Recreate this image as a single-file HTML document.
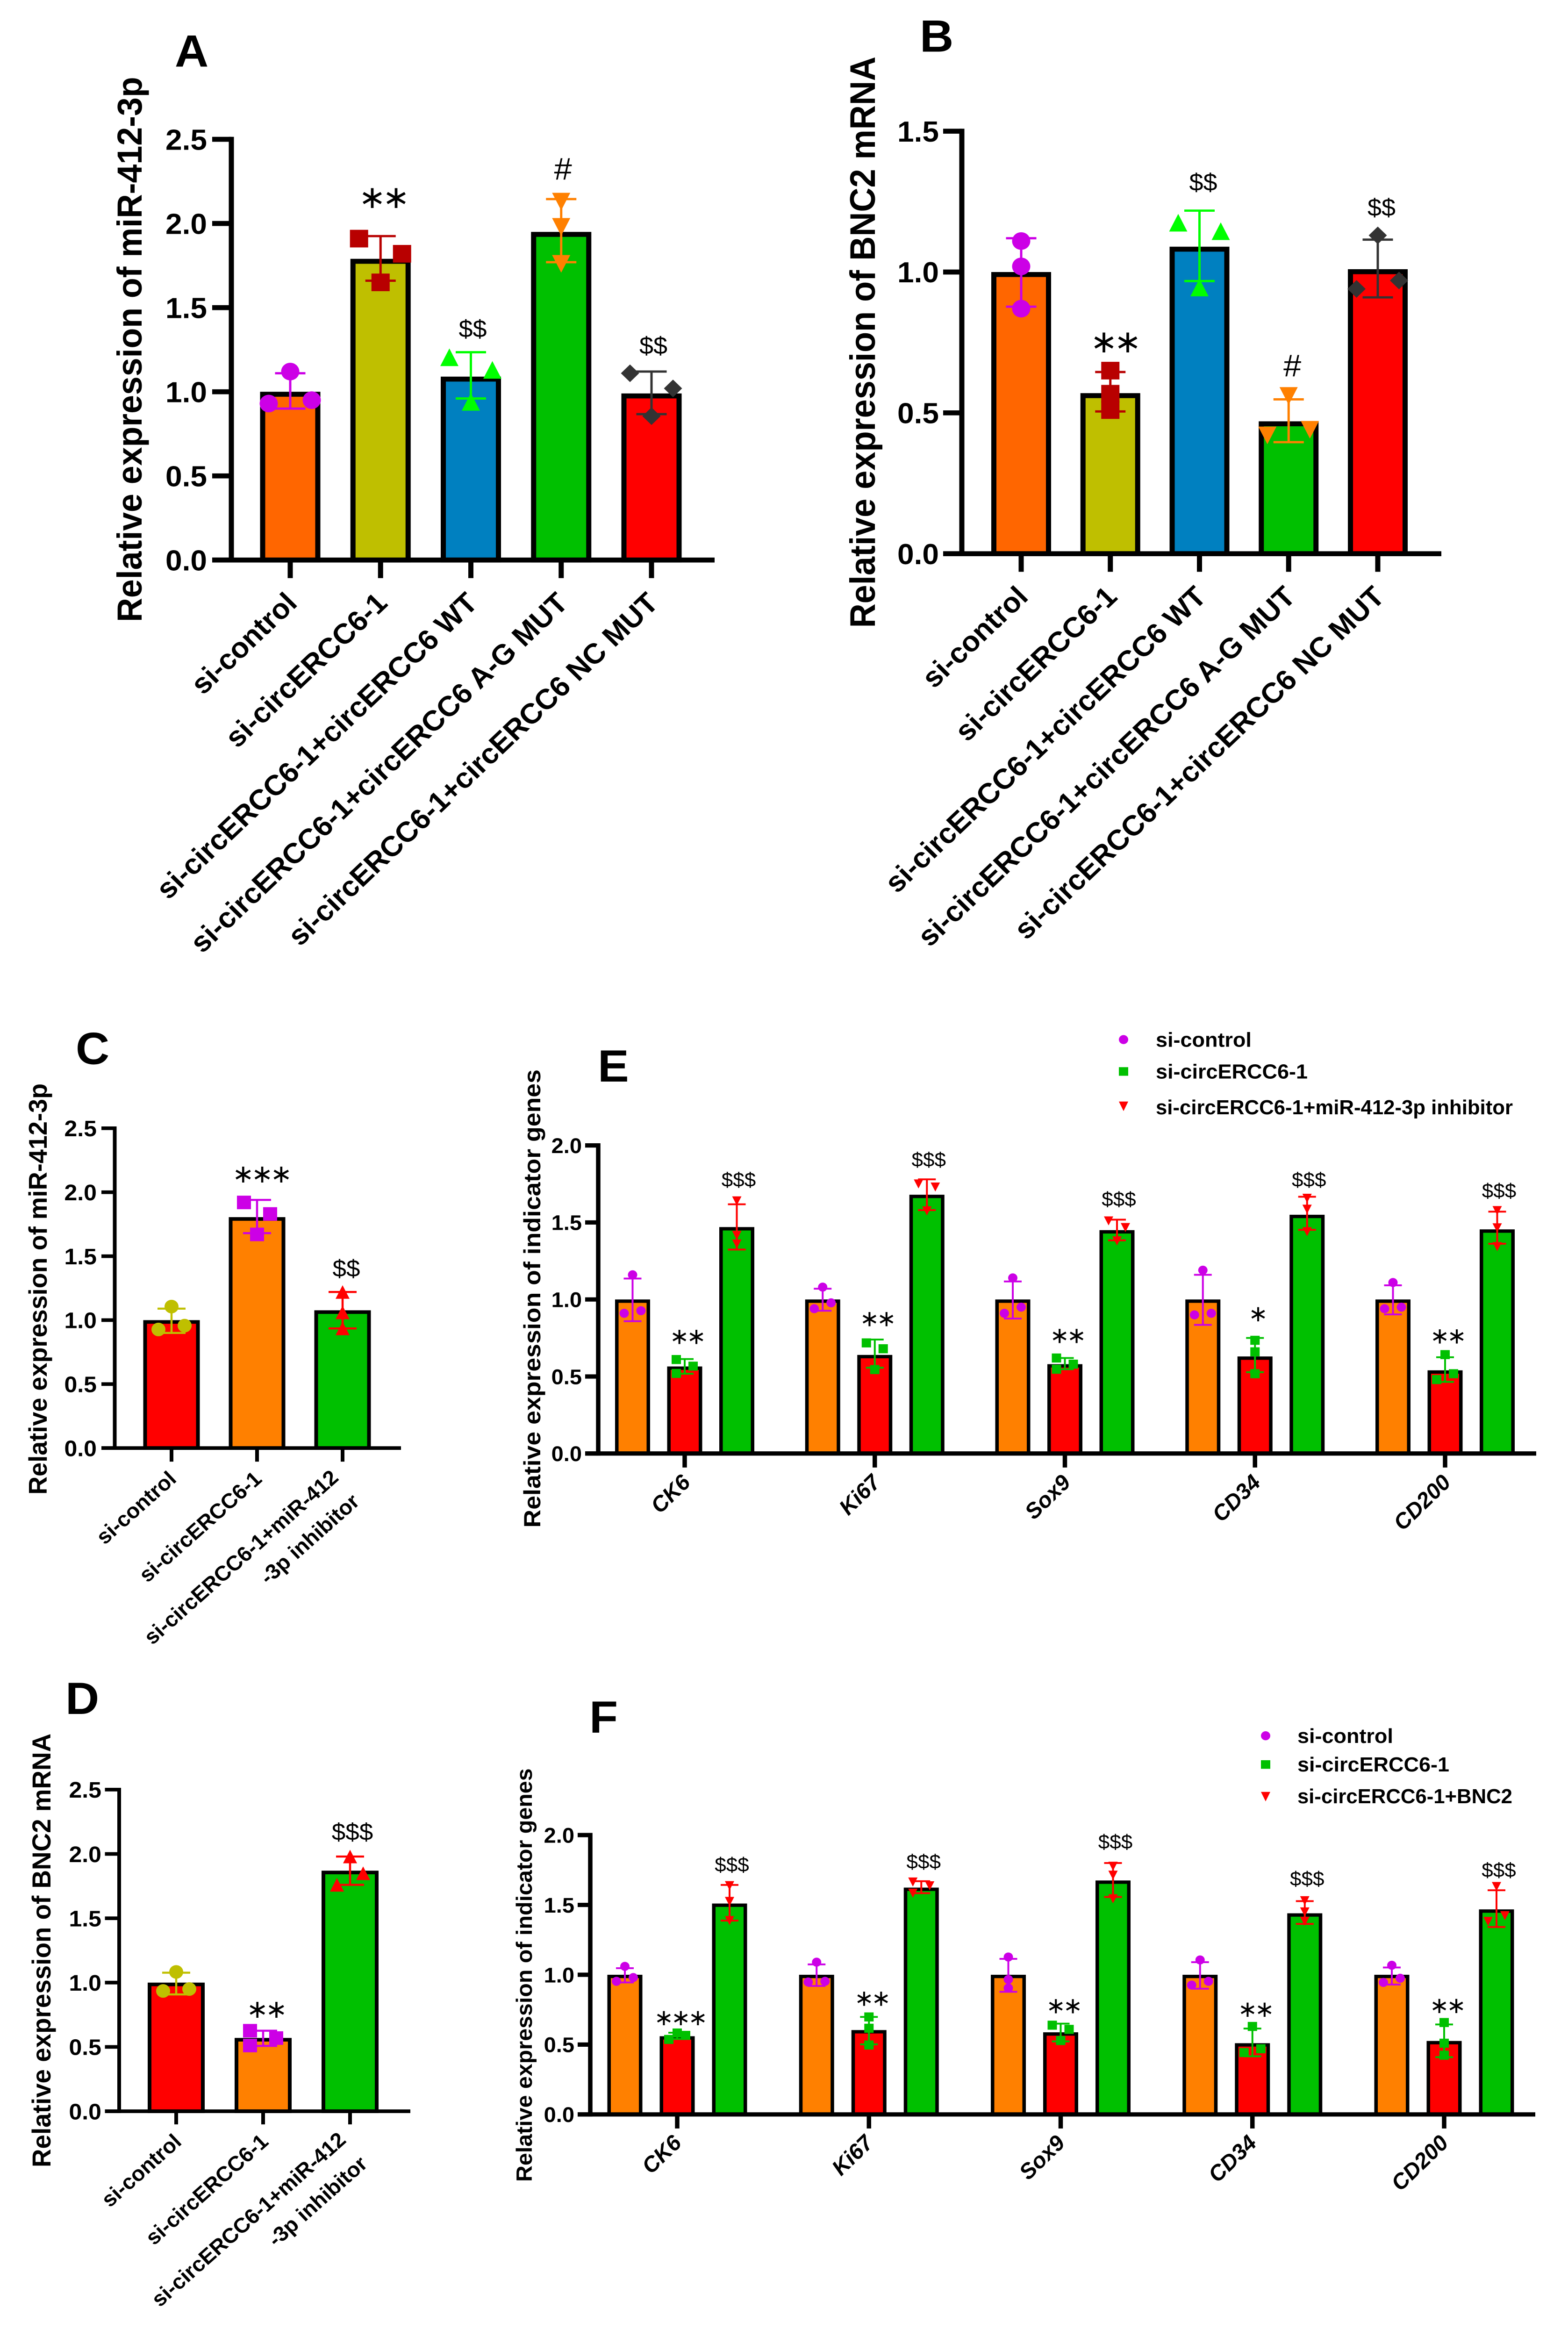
<!DOCTYPE html>
<html lang="en">
<head>
<meta charset="utf-8">
<title>Relative expression bar charts, panels A to F</title>
<style>
html,body{margin:0;padding:0;background:#fff;width:100%;height:100%;overflow:hidden;}
svg{display:block;position:fixed;left:0;top:0;width:100vw;height:100vh;overflow:hidden;}
text{font-family:"Liberation Sans",Arial,sans-serif;fill:#000;}
.b{font-weight:bold;}
</style>
</head>
<body>
<svg id="figure" xmlns="http://www.w3.org/2000/svg" viewBox="0 0 3355 5166" preserveAspectRatio="none">
<rect x="0" y="0" width="3355" height="5166" fill="#fff"/>

<text class="b" x="374" y="147" font-size="100">A</text>
<text class="b" x="1968" y="114" font-size="100">B</text>
<text class="b" x="162" y="2352" font-size="100">C</text>
<text class="b" x="140" y="3789" font-size="100">D</text>
<text class="b" x="1279" y="2391" font-size="100">E</text>
<text class="b" x="1261" y="3830" font-size="100">F</text>

<text class="b" font-size="74" transform="translate(303,1375) rotate(-90)" textLength="1205" lengthAdjust="spacingAndGlyphs">Relative expression of miR-412-3p</text>
<text class="b" font-size="76" transform="translate(1872,1388) rotate(-90)" textLength="1263" lengthAdjust="spacingAndGlyphs">Relative expression of BNC2 mRNA</text>
<text class="b" font-size="55" transform="translate(100,3304) rotate(-90)" textLength="909" lengthAdjust="spacingAndGlyphs">Relative expression of miR-412-3p</text>
<text class="b" font-size="56" transform="translate(108,4791) rotate(-90)" textLength="959" lengthAdjust="spacingAndGlyphs">Relative expression of BNC2 mRNA</text>
<text class="b" font-size="50" transform="translate(1156,3377) rotate(-90)" textLength="1013" lengthAdjust="spacingAndGlyphs">Relative expression of indicator genes</text>
<text class="b" font-size="47" transform="translate(1138,4823) rotate(-90)" textLength="914" lengthAdjust="spacingAndGlyphs">Relative expression of indicator genes</text>

<g>
  <ellipse cx="2404" cy="2298" rx="10" ry="10" fill="#CC00E6"/>
  <text class="b" x="2473" y="2314" font-size="45">si-control</text>
  <rect x="2394" y="2359" width="20" height="19" fill="#00C000"/>
  <text class="b" x="2473" y="2384" font-size="45">si-circERCC6-1</text>
  <polygon points="2394,2435 2414,2435 2404,2456" fill="#FF0000"/>
  <text class="b" x="2473" y="2463" font-size="45" textLength="764" lengthAdjust="spacingAndGlyphs">si-circERCC6-1+miR-412-3p inhibitor</text>
</g>

<g>
  <ellipse cx="2708" cy="3837" rx="10" ry="10" fill="#CC00E6"/>
  <text class="b" x="2776" y="3853" font-size="45">si-control</text>
  <rect x="2698" y="3891" width="20" height="19" fill="#00C000"/>
  <text class="b" x="2776" y="3916" font-size="45">si-circERCC6-1</text>
  <polygon points="2698,3961 2718,3961 2708,3982" fill="#FF0000"/>
  <text class="b" x="2776" y="3986" font-size="45" textLength="460" lengthAdjust="spacingAndGlyphs">si-circERCC6-1+BNC2</text>
</g>

<g id="panel-a"></g>
<g id="panel-b"></g>
<g id="panel-c"></g>
<g id="panel-d"></g>
<g id="panel-e"></g>
<g id="panel-f"></g>
</svg>

<script>
// Panel A
const aCategories = ['si-control','si-circERCC6-1','si-circERCC6-1+circERCC6 WT','si-circERCC6-1+circERCC6 A-G MUT','si-circERCC6-1+circERCC6 NC MUT'];
const aTicks = ['0.0','0.5','1.0','1.5','2.0','2.5'];
const aMeans = [1.0,1.79,1.09,1.95,0.99];
const aPoints = [[1.12,0.93,0.95],[1.91,1.82,1.65],[1.205,1.13,0.94],[2.13,1.98,1.76],[1.11,1.02,0.855]];
const aErrHigh = [1.11,1.925,1.235,2.145,1.12];
const aErrLow = [0.90,1.66,0.96,1.77,0.867];
const aSigLabels = ['','**','$$','#','$$'];
const aSigLevels = [0,2.146,1.378,2.326,1.277];

// Panel B
const bCategories = ['si-control','si-circERCC6-1','si-circERCC6-1+circERCC6 WT','si-circERCC6-1+circERCC6 A-G MUT','si-circERCC6-1+circERCC6 NC MUT'];
const bTicks = ['0.0','0.5','1.0','1.5'];
const bMeans = [1.0,0.57,1.09,0.47,1.01];
const bPoints = [[1.11,1.02,0.87],[0.65,0.568,0.51],[1.175,1.145,0.945],[0.42,0.44,0.56],[0.94,0.97,1.13]];
const bErrHigh = [1.12,0.645,1.218,0.548,1.115];
const bErrLow = [0.877,0.505,0.968,0.396,0.91];
const bSigLabels = ['','**','$$','#','$$'];
const bSigLevels = [0,0.747,1.321,0.669,1.231];

// Panel C
const cCategories = ['si-control','si-circERCC6-1','si-circERCC6-1+miR-412\n-3p inhibitor'];
const cTicks = ['0.0','0.5','1.0','1.5','2.0','2.5'];
const cMeans = [1.0,1.805,1.077];
const cPoints = [[1.106,0.927,0.957],[1.92,1.83,1.67],[1.22,1.06,0.935]];
const cErrHigh = [1.09,1.94,1.22];
const cErrLow = [0.90,1.68,0.935];
const cSigLabels = ['','***','$$'];
const cSigLevels = [0,2.133,1.408];

// Panel D
const dCategories = ['si-control','si-circERCC6-1','si-circERCC6-1+miR-412\n-3p inhibitor'];
const dTicks = ['0.0','0.5','1.0','1.5','2.0','2.5'];
const dMeans = [1.0,0.57,1.87];
const dPoints = [[1.083,0.935,0.95],[0.626,0.569,0.511],[1.98,1.76,1.85]];
const dErrHigh = [1.077,0.626,1.98];
const dErrLow = [0.908,0.508,1.76];
const dSigLabels = ['','**','$$$'];
const dSigLevels = [0,0.784,2.177];

// Panel E
const eGenes = ['CK6','Ki67','Sox9','CD34','CD200'];
const eTicks = ['0.0','0.5','1.0','1.5','2.0'];
const eControlMeans = [1.0,1.0,1.0,1.0,1.0];
const eCircMeans = [0.565,0.64,0.58,0.63,0.54];
const eInhibitorMeans = [1.47,1.68,1.45,1.55,1.455];
const eControlPoints = [[1.16,0.91,0.927],[1.08,0.94,0.978],[1.14,0.91,0.95],[1.19,0.90,0.91],[1.11,0.94,0.95]];
const eCircPoints = [[0.61,0.567,0.52],[0.718,0.68,0.545],[0.62,0.58,0.547],[0.735,0.66,0.518],[0.642,0.48,0.518]];
const eInhibitorPoints = [[1.64,1.36,1.416],[1.75,1.73,1.575],[1.51,1.467,1.38],[1.657,1.586,1.44],[1.577,1.465,1.343]];
const eControlHigh = [1.136,1.07,1.117,1.16,1.092];
const eControlLow = [0.859,0.927,0.876,0.835,0.903];
const eCircHigh = [0.613,0.74,0.62,0.75,0.625];
const eCircLow = [0.518,0.557,0.547,0.528,0.465];
const eInhibitorHigh = [1.618,1.78,1.518,1.667,1.57];
const eInhibitorLow = [1.324,1.58,1.384,1.452,1.362];
const eCircSigLabels = ['**','**','**','*','**'];
const eCircSigLevels = [0.754,0.869,0.759,0.90,0.757];
const eInhibitorSigLabels = ['$$$','$$$','$$$','$$$','$$$'];
const eInhibitorSigLevels = [1.78,1.91,1.654,1.78,1.708];

// Panel F
const fGenes = ['CK6','Ki67','Sox9','CD34','CD200'];
const fTicks = ['0.0','0.5','1.0','1.5','2.0'];
const fControlMeans = [1.0,1.0,1.0,1.0,1.0];
const fCircMeans = [0.56,0.604,0.588,0.51,0.526];
const fBnc2Means = [1.51,1.624,1.675,1.44,1.468];
const fControlPoints = [[1.06,0.953,0.98],[1.09,0.948,0.953],[1.127,0.966,0.905],[1.106,0.926,0.953],[1.068,0.945,0.975]];
const fCircPoints = [[0.537,0.583,0.566],[0.698,0.617,0.497],[0.639,0.609,0.529],[0.63,0.443,0.47],[0.658,0.51,0.424]];
const fBnc2Points = [[1.638,1.525,1.388],[1.664,1.637,1.584],[1.777,1.713,1.544],[1.53,1.45,1.383],[1.632,1.382,1.423]];
const fControlHigh = [1.047,1.074,1.114,1.09,1.052];
const fControlLow = [0.945,0.92,0.878,0.90,0.93];
const fCircHigh = [0.585,0.698,0.65,0.615,0.644];
const fCircLow = [0.54,0.502,0.523,0.416,0.41];
const fBnc2High = [1.643,1.67,1.8,1.527,1.605];
const fBnc2Low = [1.388,1.584,1.557,1.364,1.342];
const fCircSigLabels = ['***','**','**','**','**'];
const fCircSigLevels = [0.685,0.824,0.77,0.746,0.773];
const fBnc2SigLabels = ['$$$','$$$','$$$','$$$','$$$'];
const fBnc2SigLevels = [1.79,1.812,1.954,1.691,1.753];

const NS = 'http://www.w3.org/2000/svg';

function make(tag, attrs, parent) {
  const node = document.createElementNS(NS, tag);
  Object.keys(attrs).forEach(function (k) { node.setAttribute(k, attrs[k]); });
  parent.appendChild(node);
  return node;
}

function dodgeSlots(values, yScale, threshold) {
  const ys = values.map(yScale);
  const close = [];
  ys.forEach(function (y, i) {
    if (ys.some(function (o, j) { return j !== i && Math.abs(o - y) < threshold; })) close.push(i);
  });
  const slots = values.map(function () { return 0; });
  const spread = ys.length ? Math.max.apply(null, ys) - Math.min.apply(null, ys) : 0;
  if (close.length === 3 && spread < threshold) {
    slots[0] = -1; slots[1] = 0; slots[2] = 1;
  } else {
    close.forEach(function (idx, order) { slots[idx] = order % 2 === 0 ? -1 : 1; });
  }
  return slots;
}

function drawMarker(g, shape, cx, cy, s, color) {
  const h = s / 2;
  let el;
  if (shape === 'circle') {
    el = make('circle', {cx: cx, cy: cy, r: h, fill: color}, g);
  } else if (shape === 'square') {
    el = make('rect', {x: cx - h, y: cy - h, width: s, height: s, fill: color}, g);
  } else if (shape === 'up') {
    el = make('polygon', {points: cx + ',' + (cy - h) + ' ' + (cx - h) + ',' + (cy + h) + ' ' + (cx + h) + ',' + (cy + h), fill: color}, g);
  } else if (shape === 'down') {
    el = make('polygon', {points: cx + ',' + (cy + h) + ' ' + (cx - h) + ',' + (cy - h) + ' ' + (cx + h) + ',' + (cy - h), fill: color}, g);
  } else {
    el = make('polygon', {points: cx + ',' + (cy - h) + ' ' + (cx + h) + ',' + cy + ' ' + cx + ',' + (cy + h) + ' ' + (cx - h) + ',' + cy, fill: color}, g);
  }
  
  
}

function drawAxes(g, c, yScale) {
  const vAxis = make('line', {x1: c.axisX, x2: c.axisX, y1: c.yTop - c.sw / 2, y2: c.y0 + c.sw / 2, stroke: '#000', 'stroke-width': c.sw}, g);
  
  
  const hAxis = make('line', {x1: c.leftX, x2: c.rightX, y1: c.y0, y2: c.y0, stroke: '#000', 'stroke-width': c.sw}, g);
  
  
  c.ticks.forEach(function (label) {
    const y = yScale(parseFloat(label));
    const tick = make('line', {x1: c.leftX, x2: c.axisX, y1: y, y2: y, stroke: '#000', 'stroke-width': c.sw}, g);
    
    
    const txt = make('text', {x: c.tickRight, y: y + c.tickFont * 0.358, 'text-anchor': 'end', 'font-size': c.tickFont, 'font-weight': 'bold'}, g);
    
    
    txt.textContent = label;
  });
}

function drawCategory(g, c, label, x) {
  const tick = make('line', {x1: x, x2: x, y1: c.y0, y2: c.y0 + c.tickLen, stroke: '#000', 'stroke-width': c.sw}, g);
  
  
  const lines = label.split('\n');
  lines.forEach(function (line, i) {
    const dx = lines.length > 1 ? c.wrapDx[i] : c.catDx;
    const dy = lines.length > 1 ? c.wrapDy[i] : c.catDy;
    const attrs = {'text-anchor': 'end', 'font-size': c.catFont, 'font-weight': 'bold', transform: 'translate(' + (x + dx) + ',' + (c.y0 + dy) + ') rotate(' + c.angle + ')'};
    if (c.catItalic) attrs['font-style'] = 'italic';
    const txt = make('text', attrs, g);
    
    
    txt.textContent = line;
  });
}

function drawBar(g, c, yScale, cx, mean, pts, hi, lo, fill, color, shape) {
  const top = yScale(mean);
  const bar = make('rect', {x: cx - c.barW / 2 + c.barSw / 2, y: top + c.barSw / 2, width: c.barW - c.barSw, height: Math.max(0, c.y0 - top - c.barSw / 2), fill: fill, stroke: '#000', 'stroke-width': c.barSw}, g);
  
  

  const stem = make('line', {x1: cx, x2: cx, y1: yScale(hi), y2: yScale(lo), stroke: color, 'stroke-width': c.errW}, g);
  
  
  [hi, lo].forEach(function (v) {
    const cap = make('line', {x1: cx - c.capW / 2, x2: cx + c.capW / 2, y1: yScale(v), y2: yScale(v), stroke: color, 'stroke-width': c.errW}, g);
    
    
  });

  const slots = dodgeSlots(pts, yScale, c.thr);
  pts.forEach(function (v, i) {
    drawMarker(g, shape, cx + slots[i] * c.dodge, yScale(v), c.mSize, color);
  });
}

function drawSig(g, c, yScale, cx, label, level) {
  if (!label) return;
  const isStar = label.charAt(0) === '*';
  const y = yScale(level);
  const attrs = {x: cx + c.sigDx, 'text-anchor': 'middle'};
  let txt;
  if (isStar) {
    attrs.y = y + c.starFont * 0.29;
    attrs['font-size'] = c.starFont;
    attrs.style = 'font-family:"DejaVu Sans",sans-serif;letter-spacing:' + (-c.starFont * 0.11) + 'px';
    txt = make('text', attrs, g);
    txt.textContent = label.replace(/\*/g, '\u2217');
  } else {
    const size = label === '#' ? c.sigFont * 1.27 : c.sigFont;
    attrs.y = y + size * 0.36;
    attrs['font-size'] = size;
    txt = make('text', attrs, g);
    txt.textContent = label;
  }
  
  
}

function drawSimple(c) {
  const g = document.getElementById(c.id);
  const yScale = function (v) { return c.y0 - (v / c.yMax) * (c.y0 - c.yTop); };
  c.means.forEach(function (m, i) {
    const cx = c.first + i * c.step;
    drawBar(g, c, yScale, cx, m, c.points[i], c.hi[i], c.lo[i], c.fills[i], c.colors[i], c.shapes[i]);
    drawSig(g, c, yScale, cx, c.sigLabels[i], c.sigLevels[i]);
  });
  drawAxes(g, c, yScale);
  c.cats.forEach(function (label, i) { drawCategory(g, c, label, c.first + i * c.step); });
}

function drawGrouped(c) {
  const g = document.getElementById(c.id);
  const yScale = function (v) { return c.y0 - (v / c.yMax) * (c.y0 - c.yTop); };
  c.series.forEach(function (s, si) {
    s.means.forEach(function (m, gi) {
      const cx = c.first + gi * c.step + (si - 1) * c.offset;
      drawBar(g, c, yScale, cx, m, s.points[gi], s.hi[gi], s.lo[gi], s.fill, s.color, s.shape);
      if (s.sigLabels) drawSig(g, c, yScale, cx, s.sigLabels[gi], s.sigLevels[gi]);
    });
  });
  drawAxes(g, c, yScale);
  c.cats.forEach(function (label, i) { drawCategory(g, c, label, c.first + i * c.step); });
}

const MAG = '#CC00E6', OLV = '#BFBF00';

drawSimple({id:'panel-a', cats:aCategories, ticks:aTicks, means:aMeans, points:aPoints, hi:aErrHigh, lo:aErrLow, sigLabels:aSigLabels, sigLevels:aSigLevels,
  axisX:495, y0:1238, yTop:308, yMax:2.5, leftX:454, rightX:1529, first:621, step:193.25, barW:129, sw:11, barSw:11, tickLen:40,
  tickFont:64, tickRight:443, catFont:63, catDx:18, catDy:99, angle:-44.5,
  fills:['#FF6600',OLV,'#0080C0','#00C000','#FF0000'], colors:[MAG,'#B80000','#00FF00','#FF8000','#333333'], shapes:['circle','square','up','down','diamond'],
  mSize:39, dodge:46, thr:35, capW:65, errW:5, sigFont:54, starFont:70, sigDx:4});

drawSimple({id:'panel-b', cats:bCategories, ticks:bTicks, means:bMeans, points:bPoints, hi:bErrHigh, lo:bErrLow, sigLabels:bSigLabels, sigLevels:bSigLevels,
  axisX:2058, y0:1224, yTop:290, yMax:1.5, leftX:2018, rightX:3084, first:2185, step:190.75, barW:128, sw:11, barSw:11, tickLen:40,
  tickFont:64, tickRight:2009, catFont:63, catDx:18, catDy:99, angle:-44.5,
  fills:['#FF6600',OLV,'#0080C0','#00C000','#FF0000'], colors:[MAG,'#B80000','#00FF00','#FF8000','#333333'], shapes:['circle','square','up','down','diamond'],
  mSize:39, dodge:45.5, thr:35, capW:65, errW:5, sigFont:54, starFont:70, sigDx:8});

drawSimple({id:'panel-c', cats:cCategories, ticks:cTicks, means:cMeans, points:cPoints, hi:cErrHigh, lo:cErrLow, sigLabels:cSigLabels, sigLevels:cSigLevels,
  axisX:245.5, y0:3201, yTop:2494, yMax:2.5, leftX:217, rightX:858, first:367, step:183, barW:121, sw:8, barSw:8, tickLen:30,
  tickFont:50, tickRight:207, catFont:46.5, catDx:13, catDy:72, angle:-42.5, wrapDx:[-6,39], wrapDy:[69,122],
  fills:['#FF0000','#FF8000','#00C000'], colors:[OLV,MAG,'#FF0000'], shapes:['circle','square','up'],
  mSize:30, dodge:28, thr:30, capW:60, errW:4.5, sigFont:53, starFont:56, sigDx:8});

drawSimple({id:'panel-d', cats:dCategories, ticks:dTicks, means:dMeans, points:dPoints, hi:dErrHigh, lo:dErrLow, sigLabels:dSigLabels, sigLevels:dSigLevels,
  axisX:255, y0:4667, yTop:3956, yMax:2.5, leftX:224.5, rightX:878, first:377, step:186, barW:122, sw:8, barSw:8, tickLen:29,
  tickFont:50, tickRight:217, catFont:46.5, catDx:14, catDy:71, angle:-42.5, wrapDx:[-6,40], wrapDy:[67,120],
  fills:['#FF0000','#FF8000','#00C000'], colors:[OLV,MAG,'#FF0000'], shapes:['circle','square','up'],
  mSize:30, dodge:28, thr:30, capW:60, errW:4.5, sigFont:53, starFont:56, sigDx:5});

drawGrouped({id:'panel-e', cats:eGenes, ticks:eTicks,
  series:[
    {means:eControlMeans, points:eControlPoints, hi:eControlHigh, lo:eControlLow, fill:'#FF8000', color:MAG, shape:'circle'},
    {means:eCircMeans, points:eCircPoints, hi:eCircHigh, lo:eCircLow, fill:'#FF0000', color:'#00C000', shape:'square', sigLabels:eCircSigLabels, sigLevels:eCircSigLevels},
    {means:eInhibitorMeans, points:eInhibitorPoints, hi:eInhibitorHigh, lo:eInhibitorLow, fill:'#00C000', color:'#FF0000', shape:'down', sigLabels:eInhibitorSigLabels, sigLevels:eInhibitorSigLevels}
  ],
  axisX:1280, y0:3213, yTop:2532, yMax:2.0, leftX:1252, rightX:3287, first:1465, step:406.75, offset:111.5, barW:75, sw:9.5, barSw:7.5, tickLen:31,
  tickFont:47, tickRight:1245, catFont:48, catItalic:true, catDx:15, catDy:67, angle:-45,
  mSize:20, dodge:18, thr:17.5, capW:38, errW:4, sigFont:44, starFont:50, sigDx:4});

drawGrouped({id:'panel-f', cats:fGenes, ticks:fTicks,
  series:[
    {means:fControlMeans, points:fControlPoints, hi:fControlHigh, lo:fControlLow, fill:'#FF8000', color:MAG, shape:'circle'},
    {means:fCircMeans, points:fCircPoints, hi:fCircHigh, lo:fCircLow, fill:'#FF0000', color:'#00C000', shape:'square', sigLabels:fCircSigLabels, sigLevels:fCircSigLevels},
    {means:fBnc2Means, points:fBnc2Points, hi:fBnc2High, lo:fBnc2Low, fill:'#00C000', color:'#FF0000', shape:'down', sigLabels:fBnc2SigLabels, sigLevels:fBnc2SigLevels}
  ],
  axisX:1263, y0:4674, yTop:4056.5, yMax:2.0, leftX:1236, rightX:3285, first:1449, step:410.25, offset:112, barW:75, sw:9.5, barSw:7.5, tickLen:31,
  tickFont:47, tickRight:1229, catFont:48, catItalic:true, catDx:12, catDy:66, angle:-45,
  mSize:20, dodge:18, thr:17.5, capW:38, errW:4, sigFont:44, starFont:50, sigDx:5});
</script>
</body>
</html>
